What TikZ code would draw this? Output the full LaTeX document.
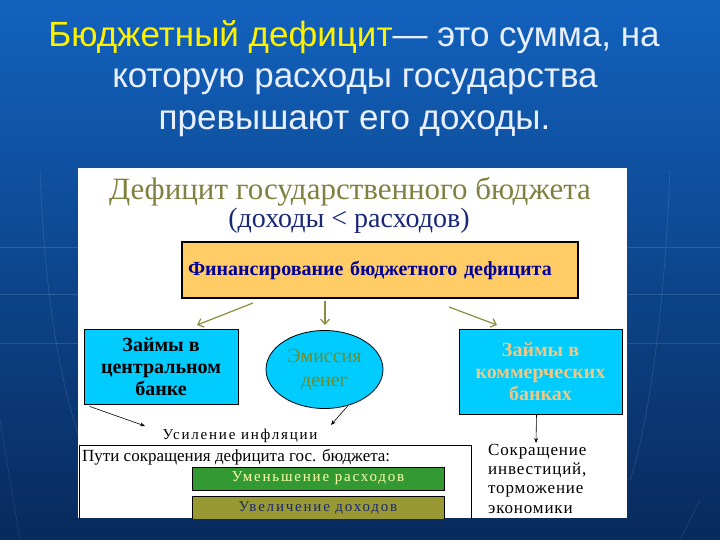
\documentclass[tikz,border=0pt]{standalone}
\usepackage{fontspec}
\setmainfont{Liberation Serif}
\newfontfamily\titlefont{Liberation Sans}
\newfontfamily\spacedserif[LetterSpace=12]{Liberation Serif}
\newfontfamily\lightspaced[LetterSpace=5]{Liberation Serif}
\usetikzlibrary{arrows.meta,shapes.geometric}
\definecolor{bgtop}{RGB}{18,98,190}
\definecolor{bgbot}{RGB}{8,42,92}
\definecolor{olivetxt}{RGB}{128,128,64}
\definecolor{navytxt}{RGB}{24,40,120}
\definecolor{orangefill}{RGB}{255,204,102}
\definecolor{fintxt}{RGB}{0,0,150}
\definecolor{cyanfill}{RGB}{0,204,255}
\definecolor{emitxt}{RGB}{110,140,40}
\definecolor{tantxt}{RGB}{240,200,130}
\definecolor{greenfill}{RGB}{51,153,51}
\definecolor{paleyel}{RGB}{255,255,170}
\definecolor{olivefill}{RGB}{153,153,51}
\definecolor{arrolive}{RGB}{140,140,60}
\definecolor{titlewhite}{RGB}{232,240,255}
\tikzset{
  cyanbox/.style={draw=black, fill=cyanfill, line width=0.8pt, inner sep=0pt, align=center},
  olivearrow/.style={draw=arrolive, line width=1.2pt, -{Straight Barb[length=5pt,width=9pt]}},
  blackarrow/.style={draw=black, line width=0.6pt, -{Stealth[length=5pt,width=4pt]}},
  titleline/.style={font=\titlefont\fontsize{35}{42}\selectfont, text=titlewhite, anchor=base, inner sep=0pt},
  spaced15/.style={font=\spacedserif\fontsize{15}{18}\selectfont, inner sep=0pt},
}
\begin{document}
\begin{tikzpicture}[x=1pt,y=-1pt]
\useasboundingbox (0,0) rectangle (720,540);
\shade[top color=bgtop, bottom color=bgbot] (0,0) rectangle (720,540);
% faint decorative lines
\foreach \yy in {247,294,343}
  \draw[white, opacity=0.12, line width=0.6pt] (0,\yy) -- (720,\yy);
\draw[white, opacity=0.10, line width=0.8pt] (40,170) .. controls (45,300) and (60,380) .. (80,440);
\draw[white, opacity=0.10, line width=0.8pt] (670,170) .. controls (665,300) and (650,420) .. (630,480);
\draw[white, opacity=0.08, line width=0.8pt] (0,420) -- (20,540);
\draw[white, opacity=0.08, line width=0.8pt] (700,500) -- (680,540);
% title
\node[titleline] (t1) at (354,47) {\textcolor{yellow}{Бюджетный дефицит}— это сумма, на};
\node[titleline] (t2) at (355,88) {которую расходы государства};
\node[titleline] (t3) at (354.5,130) {превышают его доходы.};
% panel
\node[fill=white, draw=none, minimum width=549pt, minimum height=350pt, inner sep=0pt, anchor=north west] (panel) at (78,168) {};
\node[font=\fontsize{31}{34}\selectfont, text=olivetxt, anchor=base, inner sep=0pt] (ptitle) at (350,200) {Дефицит государственного бюджета};
\node[font=\fontsize{28}{30}\selectfont, text=navytxt, anchor=base, inner sep=0pt] (psub) at (349,228) {(доходы < расходов)};
\node[draw=black, line width=1.4pt, fill=orangefill, minimum width=396pt, minimum height=56pt, text width=384pt, inner xsep=6pt, align=left, font=\bfseries\fontsize{20}{22}\selectfont, text=fintxt] (fin) at (380,270) {Финансирование бюджетного дефицита};
% three boxes
\node[cyanbox, minimum width=154pt, minimum height=75pt, font=\bfseries\fontsize{20}{22}\selectfont, text=black] (lb) at (161,366.5) {Займы в\\центральном\\банке};
\node[draw=black, fill=cyanfill, line width=0.8pt, ellipse, minimum width=117pt, minimum height=78pt, inner sep=0pt, align=center, font=\fontsize{20}{24}\selectfont, text=emitxt] (ell) at (324.5,369.5) {Эмиссия\\денег};
\node[cyanbox, minimum width=163pt, minimum height=85pt, font=\bfseries\fontsize{20}{22}\selectfont, text=tantxt] (rb) at (540.5,371.5) {Займы в\\коммерческих\\банках};
% olive arrows
\coordinate (o1s) at (253,303); \coordinate (o1e) at (197,325);
\coordinate (o2s) at (325,301); \coordinate (o2e) at (325,325);
\coordinate (o3s) at (449,307); \coordinate (o3e) at (497,325);
\draw[olivearrow] (o1s) -- (o1e);
\draw[olivearrow] (o2s) -- (o2e);
\draw[olivearrow] (o3s) -- (o3e);
% inflation
\node[spaced15, anchor=base] (infl) at (240,439) {Усиление инфляции};
\coordinate (a1e) at (145,426);
\coordinate (a2e) at (331,425);
\coordinate (a3e) at (536,443);
\draw[blackarrow] ([xshift=6pt,yshift=-2pt]lb.south west) -- (a1e);
\draw[blackarrow] (ell.-57) -- (a2e);
\draw[blackarrow] ([xshift=-4pt]rb.south) -- (a3e);
% ways box (clipped by panel bottom)
\begin{scope}
\clip (78,168) rectangle (627,518.5);
\node[draw=black, line width=0.8pt, minimum width=392pt, minimum height=80pt, inner sep=0pt, anchor=north west] (ways) at (79,445) {};
\node[draw=black, line width=0.8pt, fill=olivefill, minimum width=252pt, minimum height=24pt, inner sep=0pt, spaced15, text=navytxt] (inc) at (318,508) {Увеличение доходов};
\end{scope}
\node[font=\fontsize{17}{20}\selectfont, anchor=base west, inner sep=0pt] (waystxt) at (82,461) {Пути сокращения дефицита гос. бюджета:};
\node[draw=black, line width=0.8pt, fill=greenfill, minimum width=252pt, minimum height=23pt, inner sep=0pt, spaced15, text=paleyel] (dec) at (318,478.5) {Уменьшение расходов};
% right text
\node[font=\lightspaced\fontsize{17}{19.2}\selectfont, anchor=north west, align=left, inner sep=0pt] (cut) at (488,444) {Сокращение\\инвестиций,\\торможение\\экономики};
\end{tikzpicture}
\end{document}
